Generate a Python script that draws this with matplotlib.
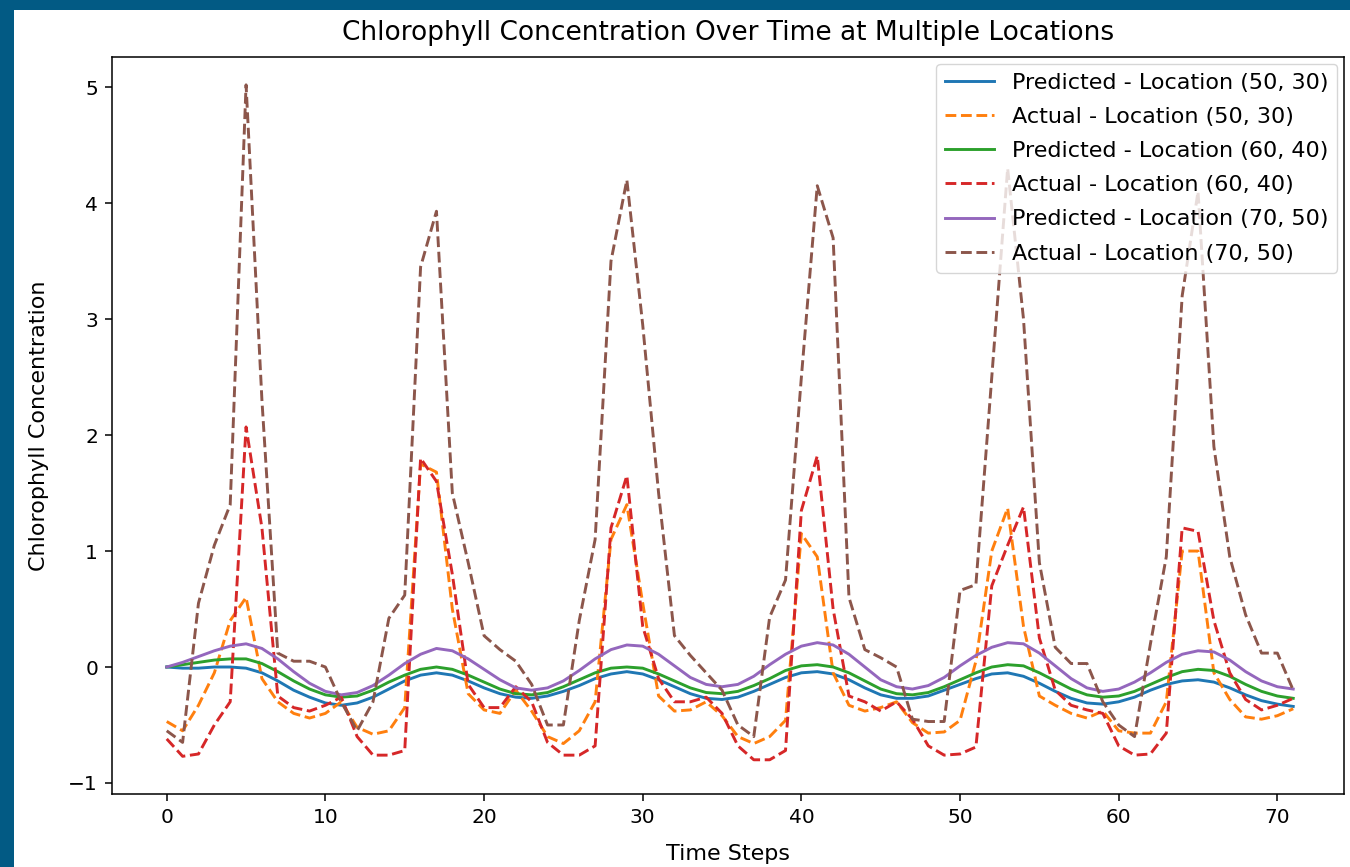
import matplotlib
matplotlib.use("Agg")
import matplotlib.pyplot as plt
from matplotlib.patches import Rectangle

time_steps = list(range(72))

pred_50_30 = [0.0, -0.01, -0.01, 0.0, 0.0, -0.01, -0.05, -0.12, -0.2, -0.26, -0.31, -0.33,
              -0.31, -0.26, -0.19, -0.12, -0.07, -0.05, -0.07, -0.12, -0.18, -0.23, -0.26, -0.27,
              -0.25, -0.21, -0.16, -0.1, -0.06, -0.04, -0.06, -0.11, -0.17, -0.23, -0.27, -0.28,
              -0.26, -0.21, -0.15, -0.09, -0.05, -0.04, -0.06, -0.11, -0.18, -0.24, -0.27, -0.27,
              -0.25, -0.2, -0.15, -0.1, -0.06, -0.05, -0.08, -0.14, -0.21, -0.27, -0.31, -0.32,
              -0.3, -0.26, -0.2, -0.15, -0.12, -0.11, -0.13, -0.18, -0.24, -0.29, -0.32, -0.34]
act_50_30 = [-0.47, -0.55, -0.33, -0.05, 0.4, 0.6, -0.1, -0.3, -0.4, -0.44, -0.4, -0.3,
             -0.52, -0.58, -0.55, -0.35, 1.75, 1.68, 0.5, -0.23, -0.37, -0.4, -0.2, -0.38,
             -0.6, -0.66, -0.55, -0.3, 1.1, 1.4, 0.55, -0.25, -0.38, -0.37, -0.3, -0.42,
             -0.6, -0.66, -0.6, -0.46, 1.15, 0.95, -0.05, -0.33, -0.38, -0.35, -0.3, -0.48,
             -0.57, -0.56, -0.46, 0.05, 1.0, 1.37, 0.35, -0.25, -0.33, -0.4, -0.44, -0.38,
             -0.55, -0.57, -0.57, -0.3, 1.0, 1.0, -0.05, -0.28, -0.43, -0.45, -0.42, -0.36]
pred_60_40 = [0.0, 0.02, 0.04, 0.06, 0.07, 0.07, 0.03, -0.04, -0.12, -0.19, -0.24, -0.26,
              -0.25, -0.2, -0.13, -0.07, -0.02, 0.0, -0.02, -0.07, -0.13, -0.19, -0.23, -0.24,
              -0.22, -0.17, -0.11, -0.05, -0.01, 0.0, -0.01, -0.06, -0.12, -0.18, -0.22, -0.23,
              -0.21, -0.16, -0.1, -0.03, 0.01, 0.02, 0.0, -0.05, -0.12, -0.19, -0.23, -0.24,
              -0.22, -0.17, -0.11, -0.05, 0.0, 0.02, 0.01, -0.05, -0.12, -0.19, -0.24, -0.26,
              -0.25, -0.21, -0.15, -0.09, -0.04, -0.02, -0.03, -0.08, -0.15, -0.21, -0.25, -0.27]
act_60_40 = [-0.62, -0.77, -0.75, -0.5, -0.3, 2.07, 1.2, -0.25, -0.35, -0.38, -0.33, -0.26,
             -0.6, -0.76, -0.76, -0.72, 1.8, 1.6, 0.8, -0.15, -0.35, -0.35, -0.17, -0.3,
             -0.65, -0.76, -0.76, -0.68, 1.2, 1.65, 0.35, -0.1, -0.3, -0.3, -0.26, -0.4,
             -0.68, -0.8, -0.8, -0.72, 1.35, 1.82, 0.5, -0.25, -0.3, -0.38, -0.3, -0.45,
             -0.68, -0.76, -0.75, -0.69, 0.7, 1.05, 1.38, 0.25, -0.2, -0.33, -0.37, -0.4,
             -0.68, -0.76, -0.75, -0.57, 1.2, 1.17, 0.4, -0.05, -0.28, -0.37, -0.33, -0.27]
pred_70_50 = [0.0, 0.04, 0.09, 0.14, 0.18, 0.2, 0.16, 0.07, -0.04, -0.14, -0.21, -0.24,
              -0.22, -0.16, -0.07, 0.03, 0.11, 0.16, 0.14, 0.07, -0.02, -0.11, -0.18, -0.2,
              -0.18, -0.12, -0.03, 0.07, 0.15, 0.19, 0.18, 0.11, 0.01, -0.09, -0.15, -0.17,
              -0.15, -0.08, 0.02, 0.11, 0.18, 0.21, 0.19, 0.11, 0.0, -0.11, -0.17, -0.19,
              -0.16, -0.09, 0.01, 0.1, 0.17, 0.21, 0.2, 0.12, 0.01, -0.1, -0.18, -0.21,
              -0.19, -0.13, -0.05, 0.04, 0.11, 0.14, 0.13, 0.06, -0.04, -0.12, -0.17, -0.19]
act_70_50 = [-0.55, -0.65, 0.55, 1.05, 1.4, 5.02, 2.3, 0.12, 0.05, 0.05, 0.0, -0.3,
             -0.55, -0.3, 0.42, 0.62, 3.45, 3.93, 1.5, 0.9, 0.27, 0.15, 0.05, -0.15,
             -0.5, -0.5, 0.4, 1.1, 3.5, 4.2, 2.95, 1.5, 0.27, 0.1, -0.05, -0.2,
             -0.5, -0.6, 0.43, 0.75, 2.5, 4.15, 3.7, 0.6, 0.15, 0.08, 0.0, -0.45,
             -0.47, -0.47, 0.66, 0.71, 2.5, 4.3, 3.0, 0.9, 0.17, 0.03, 0.03, -0.3,
             -0.5, -0.6, 0.2, 0.95, 3.2, 4.1, 1.9, 0.95, 0.45, 0.12, 0.12, -0.2]

labels = ["Predicted - Location (50, 30)", "Actual - Location (50, 30)",
          "Predicted - Location (60, 40)", "Actual - Location (60, 40)",
          "Predicted - Location (70, 50)", "Actual - Location (70, 50)"]
series = [pred_50_30, act_50_30, pred_60_40, act_60_40, pred_70_50, act_70_50]
colors = ["#1f77b4", "#ff7f0e", "#2ca02c", "#d62728", "#9467bd", "#8c564b"]
styles = ["-", "--", "-", "--", "-", "--"]

W, H = 1350, 867
fig = plt.figure(figsize=(W / 100, H / 100), dpi=100, facecolor="#025a84")
bg = Rectangle((14 / W, 0), 1, (H - 10) / H, transform=fig.transFigure,
               facecolor="white", edgecolor="none", zorder=-10)
fig.patches.append(bg)
ax = fig.add_axes([112 / W, (H - 794) / H, (1344 - 112) / W, (794 - 57) / H])
ax.set_zorder(5)

for vals, lab, c, ls in zip(series, labels, colors, styles):
    ax.plot(time_steps, vals, ls, color=c, label=lab, linewidth=2.1)

ax.set_xlim(-3.45, 74.2)
ax.set_ylim(-1.095, 5.26)
ax.set_xticks([0, 10, 20, 30, 40, 50, 60, 70])
ax.set_yticks([-1, 0, 1, 2, 3, 4, 5])
ax.tick_params(labelsize=14.5, length=5, width=1.1, pad=5)
for s in ax.spines.values():
    s.set_linewidth(1.1)
ax.set_title("Chlorophyll Concentration Over Time at Multiple Locations", fontsize=19, pad=12)
ax.set_xlabel("Time Steps", fontsize=16, labelpad=12)
ax.set_ylabel("Chlorophyll Concentration", fontsize=16, labelpad=14)
ax.legend(loc="upper right", fontsize=16, handlelength=2.2, borderaxespad=0.3,
          labelspacing=0.64)

fig.savefig("out.png", dpi=100, facecolor=fig.get_facecolor())
